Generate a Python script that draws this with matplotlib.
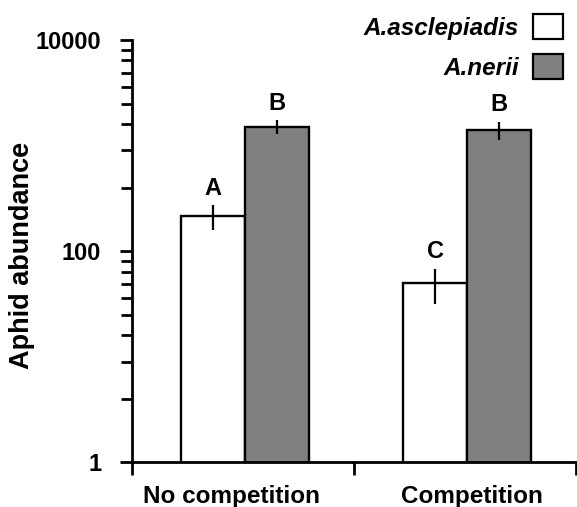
import matplotlib

matplotlib.use("Agg")
import matplotlib.pyplot as plt
import numpy as np
from matplotlib.patches import Patch
from matplotlib.ticker import FixedLocator, NullFormatter

plt.rcParams["font.family"] = ["Liberation Sans", "DejaVu Sans"]

# data
groups = ["No competition", "Competition"]
species = ["A.asclepiadis", "A.nerii"]
asclepiadis_mean = [216, 50]
asclepiadis_se = [56, 18]
nerii_mean = [1513, 1407]
nerii_se = [220, 275]
asclepiadis_letters = ["A", "C"]
nerii_letters = ["B", "B"]

colors = ["white", "#808080"]
bar_w = 0.288

fig = plt.figure(figsize=(5.77, 5.07), dpi=100)
ax = fig.add_axes([0.2283, 0.0878, 0.7700, 0.8333])

x = np.arange(len(groups)) + 0.51
series = [
    (asclepiadis_mean, asclepiadis_se, asclepiadis_letters, -bar_w / 2),
    (nerii_mean, nerii_se, nerii_letters, bar_w / 2),
]
for (means, ses, letters, off), col in zip(series, colors):
    pos = x + off
    ax.bar(pos, means, width=bar_w, color=col, edgecolor="black",
           linewidth=1.7, zorder=2)
    ax.errorbar(pos, means, yerr=ses, fmt="none", ecolor="black",
                elinewidth=1.6, capsize=0, zorder=3)
    for p, m, s, lab in zip(pos, means, ses, letters):
        ax.annotate(lab, xy=(p, m + s), xytext=(0, 4), textcoords="offset points",
                    ha="center", va="bottom", fontsize=17, fontweight="bold")

ax.set_yscale("log")
ax.set_ylim(1, 10000)
ax.set_xlim(0, 2)
ax.yaxis.set_major_locator(FixedLocator([1, 100, 10000]))
ax.yaxis.set_minor_locator(
    FixedLocator([k ** 2 * 100 ** n for n in (0, 1) for k in range(2, 10)]))
ax.yaxis.set_minor_formatter(NullFormatter())
ax.set_yticklabels(["1", "100", "10000"])
ax.set_xticks([0, 1, 2])
ax.set_xticklabels([])
# category labels sit slightly off the group centres in the original
ax.set_xticks([0.45, 1.53], minor=True)
ax.set_xticklabels(groups, minor=True, fontsize=17.5, fontweight="bold")
ax.tick_params(axis="x", which="minor", length=0, pad=16)
ax.tick_params(axis="x", which="major", length=9, width=2, direction="out")
ax.tick_params(axis="y", which="major", length=9, width=2, pad=13,
               labelsize=17)
ax.tick_params(axis="y", which="minor", length=8, width=2)
for lab in ax.get_yticklabels():
    lab.set_fontweight("bold")

for side in ("top", "right"):
    ax.spines[side].set_visible(False)
for side in ("left", "bottom"):
    ax.spines[side].set_linewidth(2.0)

ax.set_ylabel("Aphid abundance", fontsize=19.5, fontweight="bold")
ax.yaxis.set_label_coords(-0.218, 0.49)

handles = [Patch(facecolor=c, edgecolor="black", linewidth=1.6) for c in colors]
fig.legend(handles, species, loc="upper right", bbox_to_anchor=(0.996, 0.996),
           frameon=False, markerfirst=False, handlelength=1.2, handleheight=1.2,
           labelspacing=0.6, handletextpad=0.6, borderpad=0,
           prop={"size": 17.5, "weight": "bold", "style": "italic"})

fig.savefig("out.png", dpi=100)
